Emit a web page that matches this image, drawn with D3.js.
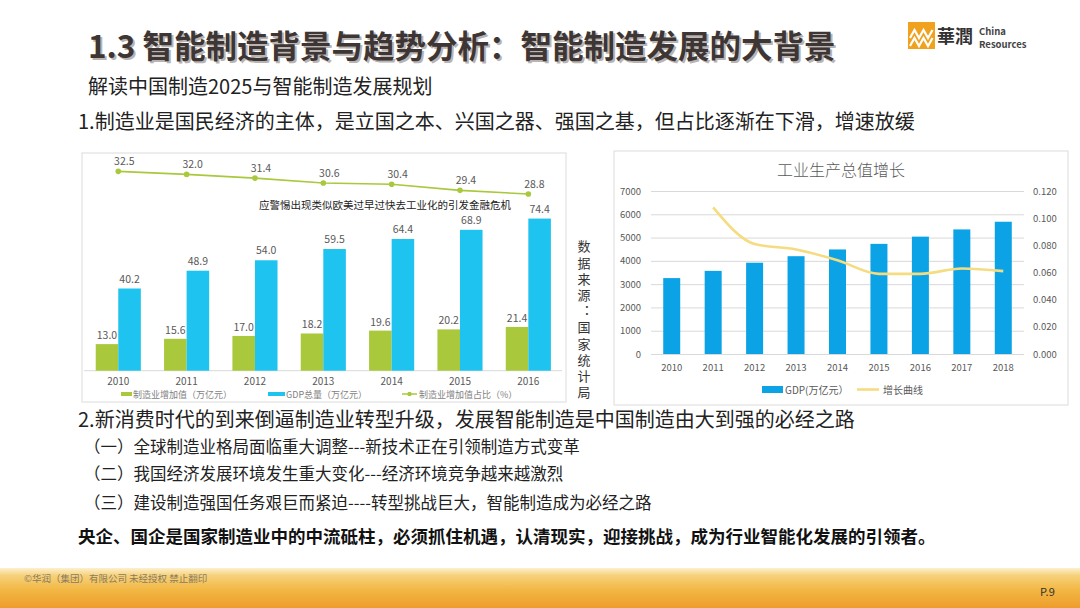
<!DOCTYPE html>
<html>
<head>
<meta charset="utf-8">
<script src="https://cdn.jsdelivr.net/npm/d3@7"></script>
<style>
  body { margin:0; background:#fff; }
  text { font-family:"Noto Sans CJK SC","Noto Sans",sans-serif; }
</style>
</head>
<body>
<div id="chart"></div>
<script>
// left chart data (万亿元 / %)
const leftYears = ["2010","2011","2012","2013","2014","2015","2016"];
const mfgValue  = [13.0, 15.6, 17.0, 18.2, 19.6, 20.2, 21.4];
const gdpTotal  = [40.2, 48.9, 54.0, 59.5, 64.4, 68.9, 74.4];
const mfgShare  = [32.5, 32.0, 31.4, 30.6, 30.4, 29.4, 28.8];
const leftLegend = ["制造业增加值（万亿元）","GDP总量（万亿元）","制造业增加值占比（%）"];

// right chart data
const rightYears = ["2010","2011","2012","2013","2014","2015","2016","2017","2018"];
const gdpValue   = [3260, 3570, 3920, 4200, 4490, 4730, 5040, 5350, 5680];
const growth     = [null, 0.108, 0.081, 0.077, 0.069, 0.059, 0.059, 0.063, 0.061];
const leftTicks  = [0,1000,2000,3000,4000,5000,6000,7000];
const rightTicks = [0,0.02,0.04,0.06,0.08,0.10,0.12];

const subItems = [
  "（一）全球制造业格局面临重大调整---新技术正在引领制造方式变革",
  "（二）我国经济发展环境发生重大变化---经济环境竞争越来越激烈",
  "（三）建设制造强国任务艰巨而紧迫----转型挑战巨大，智能制造成为必经之路"
];

const W = 1080, H = 608;
const svg = d3.select("#chart").append("svg")
    .attr("width", W).attr("height", H);

svg.append("rect").attr("width", W).attr("height", H).attr("fill", "#fff");

// ---------- header ----------
const title = "1.3 智能制造背景与趋势分析：智能制造发展的大背景";
svg.append("text").attr("x", 90).attr("y", 60)
  .attr("font-size", 31.5).attr("font-weight", 700).attr("fill", "#b9b4b2")
  .text(title);
svg.append("text").attr("x", 88).attr("y", 58)
  .attr("font-size", 31.5).attr("font-weight", 700).attr("fill", "#3d3634")
  .text(title);

svg.append("text").attr("x", 88).attr("y", 94)
  .attr("font-size", 20).attr("fill", "#222")
  .text("解读中国制造2025与智能制造发展规划");

svg.append("text").attr("x", 78).attr("y", 129)
  .attr("font-size", 20).attr("fill", "#222")
  .text("1.制造业是国民经济的主体，是立国之本、兴国之器、强国之基，但占比逐渐在下滑，增速放缓");

// logo
const logo = svg.append("g");
logo.append("rect").attr("x", 908).attr("y", 22).attr("width", 27).attr("height", 27).attr("fill", "#f0a21e");
[[0,0],[0,8]].forEach(([dx,dy]) => {
  logo.append("polyline")
    .attr("points", `${910+dx},${38+dy} ${914.5},${30+dy} ${919},${38+dy} ${923.5},${30+dy} ${928},${38+dy} ${932.5},${30+dy}`)
    .attr("fill", "none").attr("stroke", "#fff").attr("stroke-width", 2.2);
});
logo.append("text").attr("x", 937).attr("y", 43).attr("font-size", 18)
  .attr("font-weight", 700).attr("fill", "#333").text("華潤");
logo.append("text").attr("x", 979).attr("y", 35).attr("font-size", 9.5)
  .attr("font-weight", 700).attr("fill", "#444").attr("font-family", "Liberation Sans").text("China");
logo.append("text").attr("x", 979).attr("y", 48).attr("font-size", 9.5)
  .attr("font-weight", 700).attr("fill", "#444").attr("font-family", "Liberation Sans").text("Resources");

// ---------- left chart ----------
const gL = svg.append("g");
gL.append("rect").attr("x", 82).attr("y", 153).attr("width", 484).attr("height", 249)
  .attr("fill", "#fff").attr("stroke", "#dcdcdc");

const x0 = d3.scaleBand().domain(leftYears).range([84.1, 562.5])
  .paddingInner(0.34).paddingOuter(0.17);
const x1 = d3.scaleBand().domain(["mfg","gdp"]).range([0, x0.bandwidth()]);
const yBar = d3.scaleLinear().domain([0, 105]).range([370.7, 156]);
const yLine = d3.scaleLinear().domain([0, 35]).range([370.7, 156]);
const green = "#a9c83b", cyan = "#1ec3ef";

gL.append("line").attr("x1", 84).attr("x2", 562).attr("y1", yBar(0)).attr("y2", yBar(0))
  .attr("stroke", "#d9d9d9");

const groups = gL.selectAll(".grp").data(leftYears).enter().append("g")
  .attr("transform", d => `translate(${x0(d)},0)`);

groups.append("rect")
  .attr("x", x1("mfg")).attr("width", x1.bandwidth())
  .attr("y", (d,i) => yBar(mfgValue[i]))
  .attr("height", (d,i) => yBar(0) - yBar(mfgValue[i]))
  .attr("fill", green);
groups.append("rect")
  .attr("x", x1("gdp")).attr("width", x1.bandwidth())
  .attr("y", (d,i) => yBar(gdpTotal[i]))
  .attr("height", (d,i) => yBar(0) - yBar(gdpTotal[i]))
  .attr("fill", cyan);

groups.append("text")
  .attr("x", x1("mfg") + x1.bandwidth()/2).attr("y", (d,i) => yBar(mfgValue[i]) - 5)
  .attr("text-anchor", "middle").attr("font-size", 10.5).attr("fill", "#595959")
  .text((d,i) => mfgValue[i].toFixed(1));
groups.append("text")
  .attr("x", x1("gdp") + x1.bandwidth()/2).attr("y", (d,i) => yBar(gdpTotal[i]) - 6)
  .attr("text-anchor", "middle").attr("font-size", 10.5).attr("fill", "#595959")
  .text((d,i) => gdpTotal[i].toFixed(1));

const cx = d => x0(d) + x0.bandwidth()/2;
gL.append("path")
  .datum(leftYears)
  .attr("fill", "none").attr("stroke", green).attr("stroke-width", 1.6)
  .attr("d", d3.line().x(d => cx(d)).y((d,i) => yLine(mfgShare[i])));
gL.selectAll(".dot").data(leftYears).enter().append("circle")
  .attr("cx", d => cx(d)).attr("cy", (d,i) => yLine(mfgShare[i]))
  .attr("r", 2.8).attr("fill", green);
gL.selectAll(".shareLbl").data(leftYears).enter().append("text")
  .attr("x", d => cx(d) + 6).attr("y", (d,i) => yLine(mfgShare[i]) - 6)
  .attr("text-anchor", "middle").attr("font-size", 10.5).attr("fill", "#595959")
  .text((d,i) => mfgShare[i].toFixed(1));

gL.append("text").attr("x", 385).attr("y", 209).attr("text-anchor", "middle")
  .attr("font-size", 10.5).attr("fill", "#222")
  .text("应警惕出现类似欧美过早过快去工业化的引发金融危机");

gL.selectAll(".xl").data(leftYears).enter().append("text")
  .attr("x", d => cx(d)).attr("y", 385).attr("text-anchor", "middle")
  .attr("font-size", 10).attr("fill", "#595959").attr("font-family", "Liberation Sans")
  .text(d => d);

// legend
gL.append("rect").attr("x", 121).attr("y", 392).attr("width", 11).attr("height", 4).attr("fill", green);
gL.append("text").attr("x", 133).attr("y", 398).attr("font-size", 9).attr("fill", "#7f7f7f").text(leftLegend[0]);
gL.append("rect").attr("x", 268).attr("y", 392).attr("width", 17).attr("height", 4).attr("fill", cyan);
gL.append("text").attr("x", 286).attr("y", 398).attr("font-size", 9).attr("fill", "#7f7f7f").text(leftLegend[1]);
gL.append("line").attr("x1", 402).attr("x2", 417).attr("y1", 394).attr("y2", 394).attr("stroke", green).attr("stroke-width", 1.5);
gL.append("circle").attr("cx", 409.5).attr("cy", 394).attr("r", 2.2).attr("fill", green);
gL.append("text").attr("x", 419).attr("y", 398).attr("font-size", 9).attr("fill", "#7f7f7f").text(leftLegend[2]);

// data source (vertical)
svg.append("text")
  .attr("x", 584).attr("y", 240)
  .attr("writing-mode", "vertical-rl")
  .style("writing-mode", "vertical-rl")
  .attr("letter-spacing", 3.2)
  .attr("font-size", 13).attr("fill", "#333")
  .text("数据来源：国家统计局");

// ---------- right chart ----------
const gR = svg.append("g");
gR.append("rect").attr("x", 614).attr("y", 151).attr("width", 454).attr("height", 254)
  .attr("fill", "#fff").attr("stroke", "#dcdcdc");

gR.append("text").attr("x", 841).attr("y", 176).attr("text-anchor", "middle")
  .attr("font-size", 16).attr("font-weight", 300).attr("fill", "#595959")
  .text("工业生产总值增长");

const xr = d3.scaleBand().domain(rightYears).range([651, 1024])
  .paddingInner(0.59).paddingOuter(0.295);
const yr = d3.scaleLinear().domain([0, 7000]).range([354, 191]);
const yr2 = d3.scaleLinear().domain([0, 0.12]).range([354, 191]);

gR.append("g")
  .attr("transform", "translate(651,0)")
  .call(d3.axisLeft(yr).tickValues(leftTicks).tickSize(-373).tickFormat(d3.format("d")))
  .call(g => g.select(".domain").remove())
  .call(g => g.selectAll(".tick line").attr("stroke", "#d9d9d9"))
  .call(g => g.selectAll(".tick text").attr("x", -10).attr("fill", "#595959")
    .attr("font-size", 9.5).attr("font-family", "Liberation Sans"));

gR.append("g")
  .attr("transform", "translate(1024,0)")
  .call(d3.axisRight(yr2).tickValues(rightTicks).tickSize(0).tickFormat(d3.format(".3f")))
  .call(g => g.select(".domain").remove())
  .call(g => g.selectAll(".tick text").attr("x", 9).attr("fill", "#595959")
    .attr("font-size", 9.5).attr("font-family", "Liberation Sans"));

gR.append("g")
  .attr("transform", "translate(0,354)")
  .call(d3.axisBottom(xr).tickSize(0))
  .call(g => g.select(".domain").remove())
  .call(g => g.selectAll(".tick text").attr("dy", 14).attr("fill", "#595959")
    .attr("font-size", 9.5).attr("font-family", "Liberation Sans"));

const blue = "#0ba3e6";
gR.selectAll(".rbar").data(rightYears).enter().append("rect")
  .attr("x", d => xr(d)).attr("width", xr.bandwidth())
  .attr("y", (d,i) => yr(gdpValue[i]))
  .attr("height", (d,i) => yr(0) - yr(gdpValue[i]))
  .attr("fill", blue);

const yellow = "#f5dc80";
gR.append("path")
  .datum(rightYears)
  .attr("fill", "none").attr("stroke", yellow).attr("stroke-width", 2.6)
  .attr("d", d3.line()
    .defined((d,i) => growth[i] != null)
    .curve(d3.curveMonotoneX)
    .x(d => xr(d) + xr.bandwidth()/2)
    .y((d,i) => yr2(growth[i])));

gR.append("rect").attr("x", 762).attr("y", 386).attr("width", 21).attr("height", 7).attr("fill", blue);
gR.append("text").attr("x", 785).attr("y", 394).attr("font-size", 10).attr("fill", "#595959").text("GDP(万亿元）");
gR.append("line").attr("x1", 857).attr("x2", 879).attr("y1", 389.5).attr("y2", 389.5)
  .attr("stroke", yellow).attr("stroke-width", 2.6);
gR.append("text").attr("x", 883).attr("y", 394).attr("font-size", 10).attr("fill", "#595959").text("增长曲线");

// ---------- lower text ----------
svg.append("text").attr("x", 78).attr("y", 427)
  .attr("font-size", 20).attr("fill", "#222")
  .text("2.新消费时代的到来倒逼制造业转型升级，发展智能制造是中国制造由大到强的必经之路");

svg.selectAll(".sub").data(subItems).enter().append("text")
  .attr("x", 84).attr("y", (d,i) => [453, 480, 509][i])
  .attr("font-size", 16.5).attr("fill", "#222")
  .text(d => d);

svg.append("text").attr("x", 78).attr("y", 543)
  .attr("font-size", 17.5).attr("font-weight", 700).attr("fill", "#111")
  .text("央企、国企是国家制造业中的中流砥柱，必须抓住机遇，认清现实，迎接挑战，成为行业智能化发展的引领者。");

// ---------- footer ----------
const defs = svg.append("defs");
const grad = defs.append("linearGradient").attr("id", "foot")
  .attr("x1", 0).attr("x2", 0).attr("y1", 0).attr("y2", 1);
grad.append("stop").attr("offset", "0%").attr("stop-color", "#fdf0cf");
grad.append("stop").attr("offset", "18%").attr("stop-color", "#f6d27c");
grad.append("stop").attr("offset", "55%").attr("stop-color", "#f2b743");
grad.append("stop").attr("offset", "100%").attr("stop-color", "#ee9c2c");
svg.append("rect").attr("x", 0).attr("y", 568).attr("width", W).attr("height", 40)
  .attr("fill", "url(#foot)");
svg.append("text").attr("x", 24).attr("y", 582).attr("font-size", 9.5).attr("fill", "#8a7a60")
  .text("©华润（集团）有限公司 未经授权 禁止翻印");
svg.append("text").attr("x", 1040).attr("y", 596).attr("font-size", 11).attr("fill", "#333")
  .text("P.9");
</script>
</body>
</html>
